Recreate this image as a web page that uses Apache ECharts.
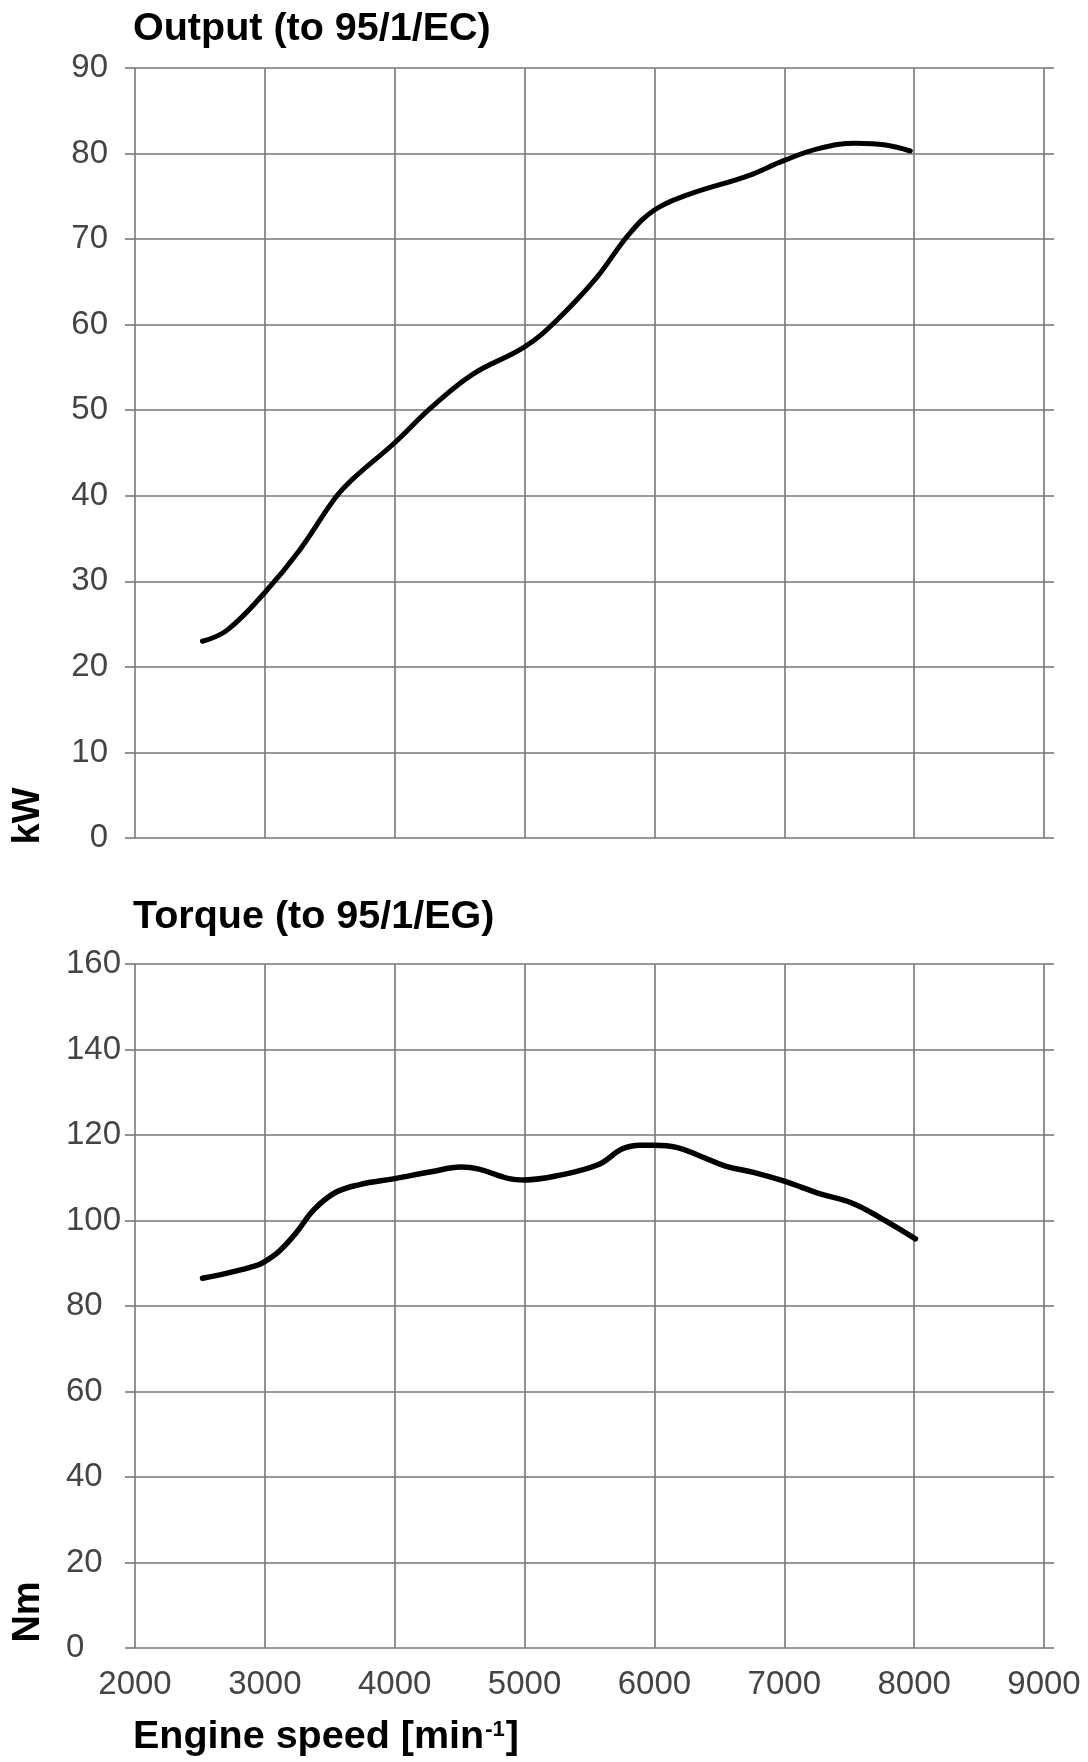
<!DOCTYPE html>
<html>
<head>
<meta charset="utf-8">
<title>Output / Torque</title>
<script src="https://cdn.jsdelivr.net/npm/echarts@6/dist/echarts.min.js"></script>
<style>
  html, body { margin: 0; padding: 0; background: #fff; }
  #chart { width: 1088px; height: 1762px; }
</style>
</head>
<body>
<div id="chart"></div>
<script>
// engine speed ticks (min^-1)
var rpmTicks = [2000, 3000, 4000, 5000, 6000, 7000, 8000, 9000];

// output curve
var outputRpm = [2520, 2710, 3000, 3270, 3540, 3680, 4000, 4280, 4600, 5000, 5240, 5550, 5800, 6000, 6260, 6720, 7000, 7270, 7550, 7780, 7970];
var outputKw  = [23.0, 24.3, 28.7, 33.7, 39.7, 42.0, 46.2, 50.3, 54.2, 57.4, 60.4, 65.4, 70.5, 73.4, 75.2, 77.4, 79.2, 80.6, 81.2, 81.0, 80.3];

// torque curve
var torqueRpm = [2520, 2710, 2920, 3000, 3110, 3240, 3380, 3540, 3730, 4000, 4280, 4510, 4650, 4880, 5000, 5240, 5570, 5750, 5890, 6000, 6170, 6350, 6540, 6770, 7000, 7270, 7520, 7740, 8010];
var torqueNm  = [86.5, 87.7, 89.3, 90.4, 92.8, 97.1, 102.6, 106.5, 108.4, 109.8, 111.4, 112.5, 112.0, 109.8, 109.5, 110.4, 113.1, 116.7, 117.6, 117.6, 117.1, 115.1, 112.8, 111.2, 109.2, 106.3, 104.1, 100.6, 95.7];

function pairs(xs, ys) {
  var out = [];
  for (var i = 0; i < xs.length; i++) out.push([xs[i], ys[i]]);
  return out;
}

var font = '"Liberation Sans", Arial, sans-serif';
var gridColor = '#777';
var labelColor = '#444';

function xAxisFor(idx, showLabels) {
  return {
    type: 'value', gridIndex: idx,
    min: rpmTicks[0], max: rpmTicks[rpmTicks.length - 1], interval: 1000,
    axisLine: { show: false },
    axisTick: { show: false },
    splitLine: { show: true, lineStyle: { color: gridColor, width: 1.6 } },
    axisLabel: {
      show: showLabels, margin: 20, fontSize: 33, color: labelColor, fontFamily: font,
      formatter: function (v) { return String(v); }
    }
  };
}

function yAxisFor(idx, max, step, labelAlign, labelMargin) {
  return {
    type: 'value', gridIndex: idx, position: 'left',
    min: 0, max: max, interval: step,
    axisLine: { show: false },
    axisTick: { show: true, length: 10, lineStyle: { color: gridColor, width: 1.6 } },
    splitLine: { show: true, lineStyle: { color: gridColor, width: 1.6 } },
    axisLabel: { margin: labelMargin, align: labelAlign, fontSize: 33, color: labelColor, fontFamily: font }
  };
}

function rightStub(idx, max, step) {
  // only the short overhang of the grid lines on the right side
  return {
    type: 'value', gridIndex: idx, position: 'right',
    min: 0, max: max, interval: step,
    axisLine: { show: false },
    axisTick: { show: true, length: 10, lineStyle: { color: gridColor, width: 1.6 } },
    splitLine: { show: false },
    axisLabel: { show: false }
  };
}

var chart = echarts.init(document.getElementById('chart'));

var option = {
  backgroundColor: '#fff',
  animation: false,
  title: [
    {
      text: 'Output (to 95/1/EC)', left: 133, top: 9, padding: 0,
      textStyle: { fontSize: 39.5, fontWeight: 'bold', color: '#000', fontFamily: font }
    },
    {
      text: 'Torque (to 95/1/EG)', left: 133, top: 897, padding: 0,
      textStyle: { fontSize: 39.5, fontWeight: 'bold', color: '#000', fontFamily: font }
    },
    {
      text: '{b|Engine speed [min}{s|-1}{b|]}', left: 133, top: 1717, padding: 0,
      textStyle: {
        rich: {
          b: { fontSize: 39.5, fontWeight: 'bold', color: '#000', fontFamily: font, lineHeight: 40 },
          s: { fontSize: 22, fontWeight: 'bold', color: '#000', fontFamily: font, lineHeight: 22,
               verticalAlign: 'top', padding: [2, 1, 0, 1] }
        }
      }
    }
  ],
  graphic: [
    {
      type: 'text', x: 29, y: 816, rotation: Math.PI / 2,
      style: { text: 'kW', fontSize: 38, fontWeight: 'bold', fontFamily: font, fill: '#000',
               align: 'center', verticalAlign: 'middle' }
    },
    {
      type: 'text', x: 29, y: 1612, rotation: Math.PI / 2,
      style: { text: 'Nm', fontSize: 38, fontWeight: 'bold', fontFamily: font, fill: '#000',
               align: 'center', verticalAlign: 'middle' }
    }
  ],
  grid: [
    { left: 135, width: 909, top: 68, height: 770 },
    { left: 135, width: 909, top: 964, height: 684 }
  ],
  xAxis: [xAxisFor(0, false), xAxisFor(1, true)],
  yAxis: [
    yAxisFor(0, 90, 10, 'right', 27),
    yAxisFor(1, 160, 20, 'left', 69),
    rightStub(0, 90, 10),
    rightStub(1, 160, 20)
  ],
  series: [
    {
      name: 'Output', type: 'line', xAxisIndex: 0, yAxisIndex: 0,
      data: pairs(outputRpm, outputKw),
      smooth: 0.4, symbol: 'none',
      lineStyle: { color: '#000', width: 5, cap: 'round' }
    },
    {
      name: 'Torque', type: 'line', xAxisIndex: 1, yAxisIndex: 1,
      data: pairs(torqueRpm, torqueNm),
      smooth: 0.4, symbol: 'none',
      lineStyle: { color: '#000', width: 5.5, cap: 'round' }
    }
  ]
};

chart.setOption(option);
</script>
</body>
</html>
